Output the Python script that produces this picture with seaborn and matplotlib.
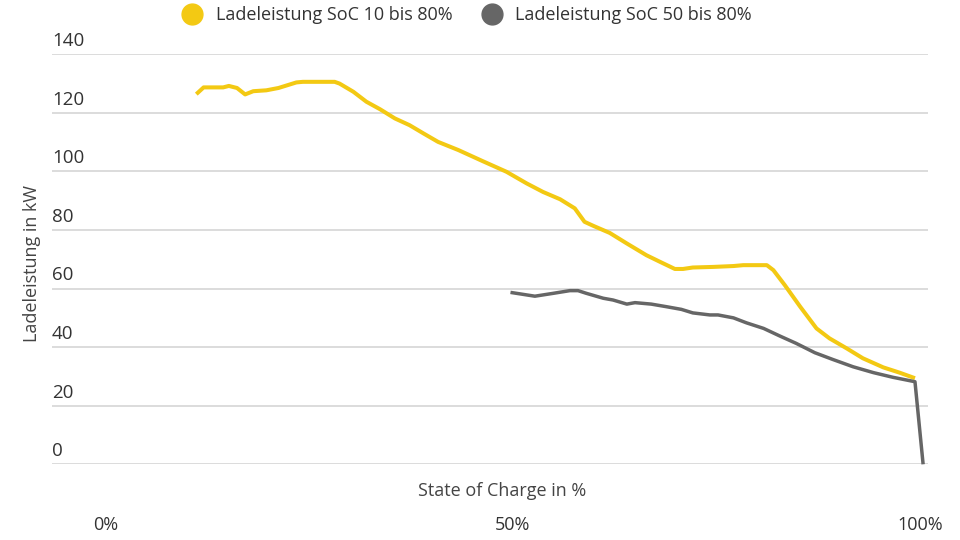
import numpy as np
import pandas as pd
import matplotlib.pyplot as plt
import seaborn as sns
from matplotlib.lines import Line2D
import matplotlib.transforms as mtransforms

# --- data (SoC in %, power in kW) ---
soc_10_80 = [11.1, 12.0, 14.4, 15.1, 16.1, 17.1, 18.1, 19.7, 21.2, 23.4, 24.2, 28.1, 28.7,
             30.4, 32.0, 33.7, 35.5, 37.3, 39.0, 40.8, 43.3, 46.3, 49.2, 51.7, 53.7, 55.8,
             57.6, 58.8, 59.9, 61.9, 64.0, 66.4, 68.1, 69.9, 70.9, 72.1, 74.6, 77.1, 78.3,
             81.2, 82.0, 83.4, 85.3, 87.3, 88.9, 91.0, 93.0, 95.5, 97.5, 99.4]
kw_10_80 = [126.4, 128.7, 128.7, 129.2, 128.5, 126.3, 127.4, 127.7, 128.5, 130.4, 130.6, 130.6, 130.0,
            127.2, 123.8, 121.2, 118.1, 115.8, 113.0, 110.1, 107.3, 103.5, 99.9, 95.9, 93.0, 90.5,
            87.4, 82.8, 81.4, 79.0, 75.4, 71.4, 69.1, 66.7, 66.7, 67.2, 67.4, 67.7, 68.0,
            68.0, 66.3, 61.2, 53.8, 46.4, 43.0, 39.6, 36.2, 33.1, 31.3, 29.4]

soc_50_80 = [49.7, 52.7, 55.0, 57.0, 58.0, 59.0, 61.1, 62.3, 64.0, 65.0, 67.0, 68.9, 70.7,
             72.1, 74.2, 75.2, 77.1, 78.7, 80.8, 82.8, 84.8, 87.1, 89.3, 91.8, 94.3, 96.7,
             99.4, 100.4]
kw_50_80 = [58.7, 57.4, 58.4, 59.3, 59.3, 58.4, 56.7, 56.1, 54.7, 55.2, 54.7, 53.8, 52.9,
            51.7, 51.0, 51.0, 50.0, 48.3, 46.4, 43.8, 41.3, 38.1, 35.8, 33.3, 31.3, 29.7,
            28.2, 0.0]

series_names = ['Ladeleistung SoC 10 bis 80%', 'Ladeleistung SoC 50 bis 80%']
series_colors = ['#F3C913', '#666666']
y_ticks = [0, 20, 40, 60, 80, 100, 120, 140]
x_ticks = [0, 50, 100]
x_labels = ['0%', '50%', '100%']

df = pd.concat([
    pd.DataFrame({'soc': soc_10_80, 'kw': kw_10_80, 'series': series_names[0]}),
    pd.DataFrame({'soc': soc_50_80, 'kw': kw_50_80, 'series': series_names[1]}),
], ignore_index=True)

sns.set_theme(style='white')
plt.rcParams['font.family'] = ['Open Sans', 'DejaVu Sans']

fig = plt.figure(figsize=(9.6, 5.4), dpi=100)
ax = fig.add_axes([52 / 960, 1 - 464.3 / 540, 876 / 960, 410 / 540])

palette = dict(zip(series_names, series_colors))
sns.lineplot(data=df, x='soc', y='kw', hue='series', palette=palette,
             sort=False, estimator=None, linewidth=2.9, ax=ax, legend=False)
for line in ax.get_lines():
    line.set_clip_on(False)
    line.set_solid_capstyle('butt')
ax.get_lines()[1].set_linewidth(2.5)

ax.set_xlim(-6.63, 101.0)
ax.set_ylim(0, 140)
sns.despine(ax=ax, left=True, bottom=True)

# horizontal grid
ax.set_yticks(y_ticks)
ax.set_yticklabels([])
ax.tick_params(axis='y', length=0)
ax.grid(axis='y', color='#d9d9d9', linewidth=1.3)
ax.set_axisbelow(True)

# y tick labels sit above their gridline, left aligned
trans = mtransforms.offset_copy(ax.get_yaxis_transform(), fig=fig, x=0, y=3, units='points')
for v in y_ticks:
    ax.text(0, v, str(v), transform=trans, ha='left', va='bottom',
            fontsize=13.5, color='#333333')

ax.set_xticks(x_ticks)
ax.set_xticklabels(x_labels, fontsize=13, color='#333333')
ax.tick_params(axis='x', length=0, pad=37)

ax.set_xlabel('State of Charge in %', fontsize=13, color='#444444')
ax.xaxis.set_label_coords(0.514, -0.043)
ax.set_ylabel('Ladeleistung in kW', fontsize=13, color='#444444')
ax.yaxis.set_label_coords(-0.012, 0.49)

handles = [Line2D([], [], linestyle='none', marker='o', markersize=15,
                  markerfacecolor=c, markeredgecolor=c) for c in series_colors]
fig.legend(handles, series_names, loc='center', bbox_to_anchor=(463 / 960, 1 - 15 / 540),
           ncol=2, frameon=False, fontsize=13, handletextpad=0.3, columnspacing=1.2,
           labelcolor='#333333')

fig.savefig('out.png', dpi=100)
